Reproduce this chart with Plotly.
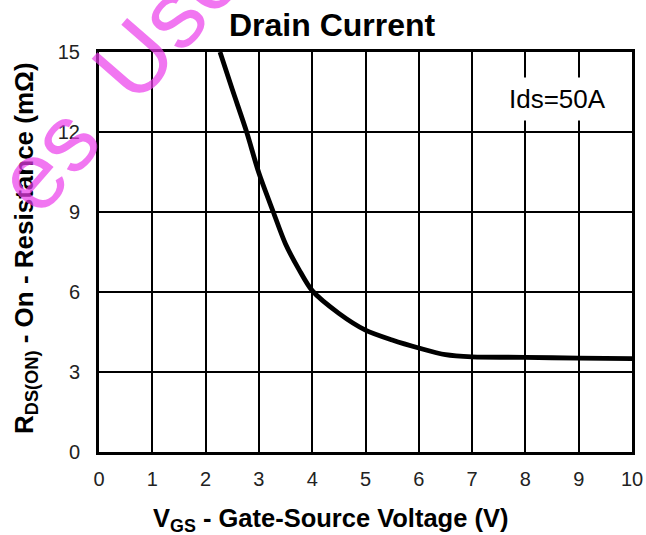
import plotly.graph_objects as go

# Data
vgs = [2.27, 2.5, 2.77, 3.0, 3.27, 3.5, 3.75, 4.0, 4.5, 5.0, 5.5, 6.0, 6.5, 7.0, 8.0, 9.0, 10.0]
rds_on = [15.0, 13.6, 12.0, 10.46, 9.0, 7.8, 6.85, 6.05, 5.2, 4.57, 4.2, 3.9, 3.65, 3.57, 3.55, 3.52, 3.5]
x_ticks = [0, 1, 2, 3, 4, 5, 6, 7, 8, 9, 10]
y_ticks = [0, 3, 6, 9, 12, 15]

W, H = 646, 535
L, R, T, B = 99, 632, 52, 452


def px(x):
    return (x - L) / (R - L)


def py(y):
    return (B - y) / (B - T)


FONT = "Liberation Sans, Arial, sans-serif"

fig = go.Figure()
fig.add_trace(go.Scatter(
    x=vgs, y=rds_on, mode="lines",
    line=dict(color="black", width=4.8, shape="spline", smoothing=0.8),
    showlegend=False, hoverinfo="skip",
))

axis_common = dict(
    showline=True, linecolor="black", linewidth=3, mirror=True,
    showgrid=True, gridcolor="black", gridwidth=1.5,
    zeroline=False, ticks="", automargin=False,
    tickfont=dict(family=FONT, size=20, color="#222"),
    fixedrange=True,
)
fig.update_xaxes(range=[0, 10], tickvals=x_ticks, ticklabelstandoff=7, **axis_common)
fig.update_yaxes(range=[0, 15], tickvals=y_ticks, ticklabelstandoff=12, **axis_common)

anch = dict(xref="paper", yref="paper", showarrow=False, xanchor="center", yanchor="middle")
annotations = [
    dict(text="<b>Drain Current</b>", x=px(332), y=py(25),
         font=dict(family=FONT, size=32, color="black"), **anch),
    dict(text="<b>V<sub>GS</sub> - Gate-Source Voltage (V)</b>", x=px(330), y=py(520),
         font=dict(family=FONT, size=25.5, color="black"), **anch),
    dict(text="<b>R<sub>DS(ON)</sub> - On - Resistance (mΩ)</b>", x=px(25), y=py(248),
         textangle=-90, font=dict(family=FONT, size=26, color="black"), **anch),
    dict(text="Ids=50A", x=8.61, y=13.24, xref="x", yref="y", showarrow=False,
         xanchor="center", yanchor="middle", bgcolor="white", borderpad=6,
         font=dict(family=FONT, size=26, color="black")),
    dict(text="es\u2002Use", x=px(118), y=py(78), textangle=-49,
         font=dict(family=FONT, size=95, color="rgba(235,60,235,0.7)"), **anch),
]

fig.update_layout(
    width=W, height=H, autosize=False,
    margin=dict(l=L, r=W - R, t=T, b=H - B),
    paper_bgcolor="white", plot_bgcolor="white",
    annotations=annotations,
)

fig.write_html(
    "out.html",
    config={"displayModeBar": False, "responsive": False},
    post_script="document.body.style.margin='0';document.body.style.overflow='hidden';",
)
